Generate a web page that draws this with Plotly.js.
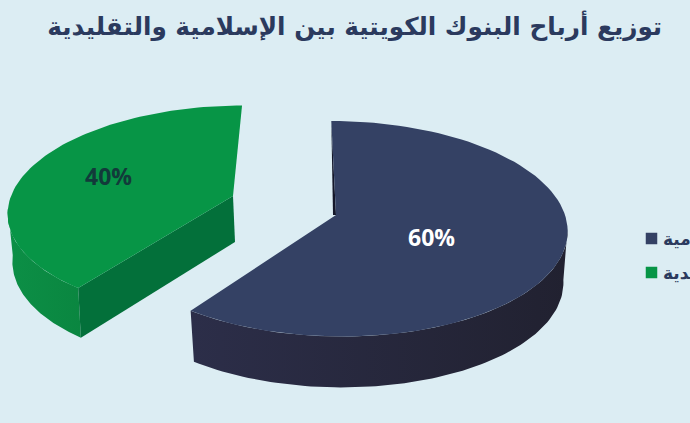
<!DOCTYPE html>
<html><head><meta charset="utf-8">
<script src="https://cdn.plot.ly/plotly-3.0.0.min.js"></script>
<style>html,body{margin:0;padding:0;overflow:hidden;background:#dcedf3}#c{width:690px;height:423px}</style>
</head><body><div id="c"></div>
<script>
const titleText = 'توزيع أرباح البنوك الكويتية بين الإسلامية والتقليدية';
const categories = ['الإسلامية', 'التقليدية'];
const shares = [60, 40];
const percentLabels = ['60%', '40%'];
const topColors = ['#344164', '#079546'];
const sideColors = [['#2c2e49', '#212130'], ['#0c8f46', '#0a8640']];
const wallColors = ['#14172a', '#03703a'];
const labelColors = ['#ffffff', '#123a3a'];

// projection of each tilted disc onto the picture
const discs = [
  {top:{x:336,y:215,a:229,b:106,k:.05}, low:{x:337,y:267,a:224,b:105,k:.04}, p:.128, label:[431,237]},
  {top:{x:233,y:196,a:222,b:102,k:-.1}, low:{x:235,y:242,a:219,b:106,k:-.11}, p:.128, label:[108,175.5]}
];
const legendPos = {x:651.5, y:[238.5,272.5], textX:661};

function project(d, face, deg){
  const r = deg*Math.PI/180, u = Math.sin(r), v = Math.cos(r), w = 1 + d.p*v;
  const dy = -face.b*v/w;
  return [face.x + face.a*u/w + face.k*dy, face.y + dy];
}
function arc(d, face, from, to){
  const out = [], n = 90;
  for(let i=0;i<=n;i++) out.push(project(d, face, from + (to-from)*i/n));
  return out;
}
function poly(pts, color, grad){
  const t = {x:pts.map(p=>p[0]), y:pts.map(p=>p[1]), mode:'lines', fill:'toself',
    line:{width:0, color:color}, fillcolor:color, hoverinfo:'skip', showlegend:false};
  if(grad) t.fillgradient = {type:'horizontal', colorscale:[[0,grad[0]],[1,grad[1]]]};
  return t;
}
const total = shares.reduce((a,b)=>a+b,0);
const traces = [], annotations = [];
let start = 0;
shares.forEach((s,i)=>{
  const d = discs[i], end = start + s/total*360;
  const visFrom = Math.max(start, 97), visTo = Math.min(end, 263);
  if(i===0){
    // thin inner wall at the start of the slice
    const a = project(d,d.top,start);
    traces.push(poly([a,[d.top.x,d.top.y],[d.top.x-3,d.top.y]], wallColors[0]));
  }
  traces.push(poly(arc(d,d.top,visFrom,visTo).concat(arc(d,d.low,visTo,visFrom)), sideColors[i][0], sideColors[i]));
  if(i===1){
    const c = project(d,d.top,start), cl = project(d,d.low,start);
    traces.push(poly([[d.top.x,d.top.y],c,cl,[d.low.x,d.low.y]], wallColors[1]));
  }
  traces.push(poly([[d.top.x,d.top.y]].concat(arc(d,d.top,start,end)), topColors[i]));
  annotations.push({x:d.label[0], y:d.label[1], xref:'x', yref:'y', text:percentLabels[i], showarrow:false,
    font:{family:'Open Sans, sans-serif', size:23, color:labelColors[i], weight:700}});
  start = end;
});
traces.push({x:categories.map(()=>legendPos.x), y:legendPos.y, mode:'markers',
  marker:{symbol:'square', size:11.5, color:topColors}, hoverinfo:'skip', showlegend:false, cliponaxis:false});
categories.forEach((c,i)=>annotations.push({x:legendPos.textX, y:legendPos.y[i], xref:'x', yref:'y', xanchor:'left',
  text:c, showarrow:false, font:{family:'DejaVu Sans, sans-serif', size:17, color:'#2b3a5e', weight:700}}));

const hidden = {visible:false, fixedrange:true};
Plotly.newPlot('c', traces, {
  width:690, height:423, margin:{l:0,r:0,t:0,b:0},
  paper_bgcolor:'#dcedf3', plot_bgcolor:'#dcedf3',
  title:{text:titleText, x:.514, xanchor:'center', y:.937, yanchor:'middle',
    font:{family:'DejaVu Sans, sans-serif', size:24.7, color:'#2b3a5e', weight:700}},
  xaxis:Object.assign({range:[0,690]},hidden),
  yaxis:Object.assign({range:[423,0]},hidden),
  annotations:annotations, showlegend:false
}, {displayModeBar:false, staticPlot:true});
</script></body></html>
